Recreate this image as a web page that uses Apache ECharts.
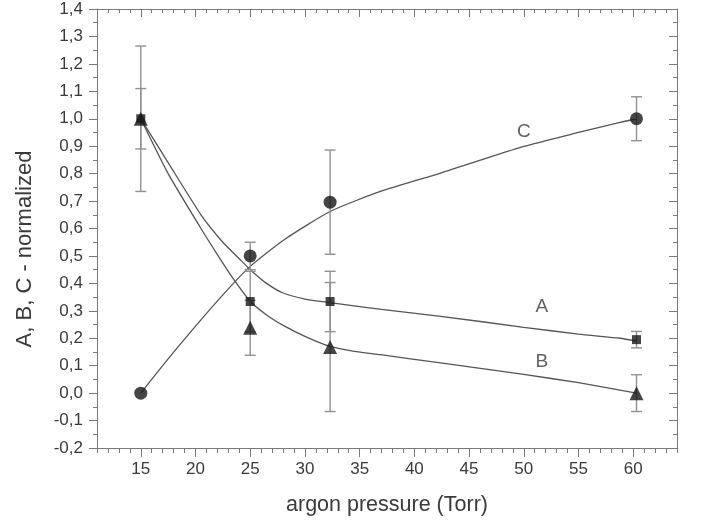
<!DOCTYPE html>
<html>
<head>
<meta charset="utf-8">
<script src="https://cdn.jsdelivr.net/npm/echarts@6/dist/echarts.min.js"></script>
<style>html,body{margin:0;padding:0;background:#fff;}#c{width:701px;height:525px;}</style>
</head>
<body>
<div id="c"></div>
<script>
// measured points
const xPts = [15, 25, 32.3, 60.3];
const valA = [1.0, 0.334, 0.334, 0.195];
const errA = [0.11, 0.11, 0.11, 0.03];
const valB = [1.0, 0.238, 0.168, 0.0];
const errB = [0.265, 0.10, 0.235, 0.067];
const valC = [0.0, 0.50, 0.696, 1.0];
const errC = [0.0, 0.05, 0.19, 0.08];

// fitted curves
const curveAx = [15, 17.5, 20.5, 22.5, 24, 25, 26.5, 28, 30, 32.3, 37, 42.4, 50, 55, 58.8, 60.3];
const curveAy = [1.0, 0.84, 0.65, 0.55, 0.49, 0.45, 0.40, 0.365, 0.343, 0.33, 0.305, 0.28, 0.24, 0.215, 0.20, 0.19];
const curveBx = [15, 17.5, 20.5, 22, 23.4, 25, 26.5, 28.1, 30, 32.3, 34.5, 36.9, 42.4, 50, 55, 60.3];
const curveBy = [1.0, 0.80, 0.60, 0.505, 0.42, 0.335, 0.285, 0.245, 0.207, 0.17, 0.152, 0.14, 0.11, 0.068, 0.038, 0.0];
const curveCx = [15, 17.5, 20.5, 23, 25, 28.1, 32.3, 36.9, 42.4, 50, 55, 58.8, 60.3];
const curveCy = [0.0, 0.125, 0.267, 0.38, 0.462, 0.559, 0.662, 0.735, 0.802, 0.899, 0.95, 0.987, 1.0];

// curve labels
const labelNames = ['C', 'A', 'B'];
const labelX = [50, 51.65, 51.65];
const labelY = [0.954, 0.314, 0.116];

// axis
const xMajor = [15, 20, 25, 30, 35, 40, 45, 50, 55, 60];
const xMin = 11, xMax = 64;
const yMin = -0.2, yMax = 1.4, yStep = 0.1;

const zip = (xs, ys) => xs.map((x, i) => [x, ys[i]]);
const errData = [];
[[valA, errA], [valB, errB], [valC, errC]].forEach(([v, e]) => {
  xPts.forEach((x, i) => { if (e[i] > 0) errData.push([x, v[i] - e[i], v[i] + e[i]]); });
});

const axisColor = '#7a7a7a';
const textColor = '#3a3a3a';
const font = 'Liberation Sans, Arial, sans-serif';

function xAxisCfg(pos, custom, len, inside, labels) {
  const a = {
    type: 'value', position: pos, min: xMin, max: xMax,
    axisLine: { show: true, onZero: false, lineStyle: { color: axisColor, width: 1 } },
    axisTick: { show: true, inside: inside, length: len, lineStyle: { color: axisColor, width: 1 } },
    axisLabel: { show: labels, color: textColor, fontSize: 17, fontFamily: font, margin: 13 },
    splitLine: { show: false }
  };
  if (custom) {
    a.axisTick.customValues = xMajor;
    a.axisLabel.customValues = xMajor;
  } else {
    a.interval = 1;
  }
  return a;
}

function yAxisCfg(pos, inside, labels) {
  return {
    type: 'value', position: pos, min: yMin, max: yMax, interval: yStep,
    axisLine: { show: true, onZero: false, lineStyle: { color: axisColor, width: 1 } },
    axisTick: { show: true, inside: inside, length: 8, lineStyle: { color: axisColor, width: 1 } },
    minorTick: { show: true, splitNumber: 2, length: 4, lineStyle: { color: axisColor, width: 1 } },
    axisLabel: {
      show: labels, color: textColor, fontSize: 17, fontFamily: font, margin: 14,
      formatter: v => v.toFixed(1).replace('.', ',').replace('-0,0', '0,0')
    },
    splitLine: { show: false }
  };
}

const chart = echarts.init(document.getElementById('c'));
const curveStyle = { color: '#555', width: 1.3 };
const mk = '#161616';

chart.setOption({
  backgroundColor: '#fff',
  animation: false,
  grid: { left: 97, top: 9, right: 24, bottom: 77, containLabel: false },
  xAxis: [
    Object.assign(xAxisCfg('bottom', false, 5, false, false), {
      name: 'argon pressure (Torr)', nameLocation: 'middle', nameGap: 46,
      nameTextStyle: { color: textColor, fontSize: 21.5, fontFamily: font }
    }),
    xAxisCfg('bottom', true, 9, false, true),
    xAxisCfg('top', false, 4, true, false),
    xAxisCfg('top', true, 8, true, false)
  ],
  yAxis: [yAxisCfg('left', false, true), yAxisCfg('right', true, false)],
  graphic: [{
    type: 'text', x: 25, y: 249, rotation: Math.PI / 2,
    style: { text: 'A, B, C - normalized', fill: textColor, font: '22px ' + font, textAlign: 'center', textVerticalAlign: 'middle' }
  }],
  series: [
    { type: 'line', data: zip(curveAx, curveAy), smooth: 0.2, showSymbol: false, symbol: 'none', lineStyle: curveStyle, z: 2 },
    { type: 'line', data: zip(curveBx, curveBy), smooth: 0.2, showSymbol: false, symbol: 'none', lineStyle: curveStyle, z: 2 },
    { type: 'line', data: zip(curveCx, curveCy), smooth: 0.2, showSymbol: false, symbol: 'none', lineStyle: curveStyle, z: 2 },
    {
      type: 'custom', data: errData, z: 3,
      renderItem: (params, api) => {
        const x = api.value(0);
        const p1 = api.coord([x, api.value(1)]);
        const p2 = api.coord([x, api.value(2)]);
        const w = 5.5;
        const st = { stroke: '#929292', lineWidth: 1.4 };
        return {
          type: 'group', children: [
            { type: 'line', shape: { x1: p1[0], y1: p1[1], x2: p2[0], y2: p2[1] }, style: st },
            { type: 'line', shape: { x1: p1[0] - w, y1: p1[1], x2: p1[0] + w, y2: p1[1] }, style: st },
            { type: 'line', shape: { x1: p2[0] - w, y1: p2[1], x2: p2[0] + w, y2: p2[1] }, style: st }
          ]
        };
      }
    },
    { type: 'scatter', name: 'A', data: zip(xPts, valA), symbol: 'rect', symbolSize: 9, itemStyle: { color: mk }, z: 5 },
    { type: 'scatter', name: 'B', data: zip(xPts, valB), symbol: 'triangle', symbolSize: 14, itemStyle: { color: mk }, z: 5 },
    { type: 'scatter', name: 'C', data: zip(xPts, valC), symbol: 'circle', symbolSize: 13, itemStyle: { color: mk }, z: 5 },
    {
      type: 'scatter', symbolSize: 0, z: 6,
      data: labelNames.map((n, i) => ({ name: n, value: [labelX[i], labelY[i]] })),
      label: { show: true, position: 'inside', formatter: p => p.name, color: textColor, fontSize: 19, fontFamily: font },
      silent: true
    }
  ]
});
</script>
</body>
</html>
